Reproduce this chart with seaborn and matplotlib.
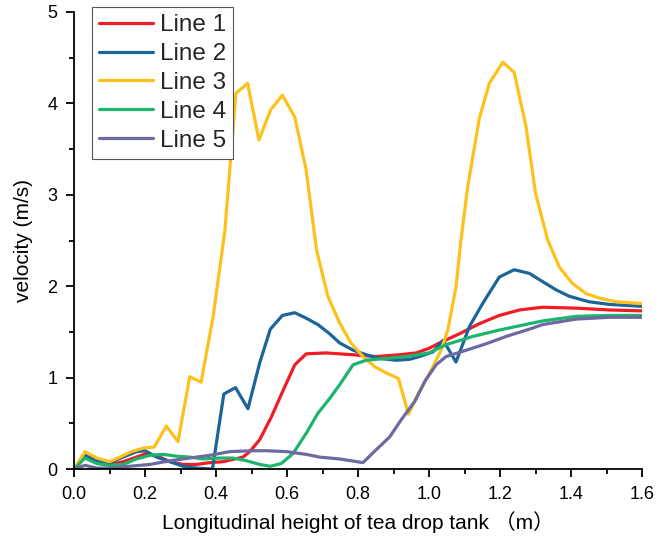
import pandas as pd
import seaborn as sns
import matplotlib.pyplot as plt
from matplotlib.ticker import MultipleLocator, FormatStrFormatter

sns.set_theme(style="ticks")
plt.rcParams['font.family'] = ['Liberation Sans', 'Noto Sans CJK SC', 'DejaVu Sans']

# Line 1 (red)
x1 = [0, 0.031, 0.064, 0.10, 0.139, 0.176, 0.204, 0.242, 0.27, 0.307, 0.345, 0.383, 0.42, 0.476,
      0.495, 0.523, 0.556, 0.589, 0.622, 0.654, 0.71, 0.786, 0.851, 0.917, 0.964, 1.0, 1.03, 1.086,
      1.142, 1.198, 1.255, 1.32, 1.414, 1.508, 1.6]
y1 = [0, 0.13, 0.08, 0.05, 0.08, 0.13, 0.17, 0.13, 0.08, 0.05, 0.05, 0.07, 0.08, 0.13,
      0.19, 0.32, 0.57, 0.86, 1.14, 1.26, 1.27, 1.25, 1.23, 1.25, 1.27, 1.32, 1.38, 1.48,
      1.59, 1.68, 1.74, 1.77, 1.76, 1.74, 1.73]

# Line 2 (blue)
x2 = [0, 0.031, 0.073, 0.10, 0.138, 0.176, 0.2, 0.233, 0.27, 0.307, 0.345, 0.39, 0.422, 0.455,
      0.49, 0.523, 0.553, 0.587, 0.622, 0.654, 0.687, 0.72, 0.748, 0.786, 0.823, 0.86, 0.908,
      0.945, 0.973, 1.011, 1.04, 1.076, 1.114, 1.151, 1.198, 1.24, 1.283, 1.32, 1.358, 1.395,
      1.45, 1.51, 1.6]
y2 = [0, 0.15, 0.08, 0.07, 0.13, 0.19, 0.20, 0.13, 0.08, 0.03, 0.01, 0.0, 0.82, 0.89,
      0.66, 1.16, 1.53, 1.68, 1.71, 1.65, 1.58, 1.48, 1.38, 1.30, 1.25, 1.21, 1.19,
      1.20, 1.23, 1.28, 1.41, 1.17, 1.56, 1.81, 2.10, 2.18, 2.14, 2.05, 1.96, 1.89,
      1.83, 1.80, 1.78]

# Line 3 (yellow)
x3 = [0, 0.031, 0.064, 0.10, 0.129, 0.162, 0.197, 0.226, 0.26, 0.293, 0.326, 0.358, 0.392, 0.425,
      0.456, 0.489, 0.521, 0.554, 0.587, 0.622, 0.654, 0.683, 0.715, 0.748, 0.78, 0.814, 0.847,
      0.88, 0.914, 0.942, 0.973, 1.006, 1.034, 1.053, 1.076, 1.09, 1.109, 1.142, 1.17, 1.208,
      1.24, 1.273, 1.30, 1.334, 1.367, 1.404, 1.442, 1.48, 1.527, 1.6]
y3 = [0, 0.19, 0.12, 0.08, 0.13, 0.19, 0.23, 0.24, 0.47, 0.30, 1.01, 0.95, 1.67, 2.61,
      4.11, 4.22, 3.60, 3.93, 4.09, 3.85, 3.27, 2.40, 1.89, 1.60, 1.38, 1.23, 1.12,
      1.05, 0.99, 0.60, 0.85, 1.08, 1.30, 1.52, 1.99, 2.50, 3.09, 3.84, 4.22, 4.45,
      4.34, 3.75, 3.02, 2.51, 2.21, 2.03, 1.92, 1.87, 1.83, 1.81]

# Line 4 (green)
x4 = [0, 0.031, 0.064, 0.10, 0.139, 0.176, 0.214, 0.251, 0.289, 0.326, 0.364, 0.41, 0.448, 0.486,
      0.523, 0.553, 0.584, 0.617, 0.654, 0.687, 0.72, 0.748, 0.786, 0.823, 0.88, 0.936, 1.0,
      1.048, 1.123, 1.198, 1.283, 1.32, 1.414, 1.508, 1.6]
y4 = [0, 0.12, 0.06, 0.04, 0.05, 0.11, 0.15, 0.16, 0.14, 0.13, 0.11, 0.12, 0.12, 0.09,
      0.05, 0.03, 0.06, 0.17, 0.39, 0.61, 0.77, 0.92, 1.14, 1.19, 1.21, 1.23, 1.27,
      1.36, 1.45, 1.52, 1.59, 1.62, 1.67, 1.68, 1.68]

# Line 5 (purple)
x5 = [0, 0.031, 0.064, 0.10, 0.157, 0.214, 0.27, 0.326, 0.383, 0.439, 0.504, 0.542, 0.598, 0.654,
      0.692, 0.748, 0.814, 0.851, 0.889, 0.922, 0.96, 0.99, 1.02, 1.048, 1.105, 1.161, 1.217,
      1.283, 1.32, 1.414, 1.508, 1.6]
y5 = [0, 0.04, 0.01, 0.01, 0.03, 0.05, 0.09, 0.12, 0.15, 0.19, 0.20, 0.20, 0.19, 0.16,
      0.13, 0.11, 0.07, 0.21, 0.35, 0.54, 0.74, 0.97, 1.14, 1.23, 1.30, 1.37, 1.45,
      1.53, 1.58, 1.64, 1.66, 1.66]

labels = ['Line 1', 'Line 2', 'Line 3', 'Line 4', 'Line 5']
colors = ['#EE1C25', '#1B6599', '#FDC11B', '#1DB56C', '#6C6AA0']

frames = []
for lab, xs, ys in zip(labels, [x1, x2, x3, x4, x5], [y1, y2, y3, y4, y5]):
    frames.append(pd.DataFrame({'x': xs, 'v': ys, 'line': lab}))
df = pd.concat(frames, ignore_index=True)

fig = plt.figure(figsize=(6.61, 5.45), dpi=100)
ax = fig.add_axes([74 / 661, 1 - 469 / 545, (642 - 74) / 661, (469 - 12) / 545])

sns.lineplot(data=df, x='x', y='v', hue='line', hue_order=labels,
             palette=dict(zip(labels, colors)), estimator=None, sort=False,
             linewidth=2.3, ax=ax)

ax.set_xlim(0, 1.6)
ax.set_ylim(0, 5)
ax.xaxis.set_major_locator(MultipleLocator(0.2))
ax.xaxis.set_minor_locator(MultipleLocator(0.1))
ax.yaxis.set_major_locator(MultipleLocator(1))
ax.yaxis.set_minor_locator(MultipleLocator(0.5))
ax.xaxis.set_major_formatter(FormatStrFormatter('%.1f'))
ax.yaxis.set_major_formatter(FormatStrFormatter('%d'))
ax.tick_params(which='major', direction='out', length=6, width=1.3, labelsize=13,
               color='black', labelcolor='black', pad=6)
ax.tick_params(which='minor', direction='out', length=3.5, width=1.3, color='black')

for side in ['top', 'right']:
    ax.spines[side].set_visible(False)
for side in ['left', 'bottom']:
    ax.spines[side].set_color('black')
    ax.spines[side].set_linewidth(1.3)

ax.set_xlabel('Longitudinal height of tea drop tank （m）', fontsize=15, color='black', labelpad=6)
ax.set_ylabel('velocity (m/s)', fontsize=15, color='black', labelpad=10)

handles, labs = ax.get_legend_handles_labels()
ax.legend(handles, labs, loc='upper left', bbox_to_anchor=(92 / 661, 1 - 7 / 545),
          bbox_transform=fig.transFigure, borderaxespad=0, fontsize=17.5,
          frameon=True, fancybox=False, edgecolor='#555555', framealpha=1,
          handlelength=2.2, handletextpad=0.3, labelspacing=0.28, borderpad=0.3)
ax.get_legend().get_frame().set_linewidth(0.8)

fig.savefig('out.png', dpi=100)
